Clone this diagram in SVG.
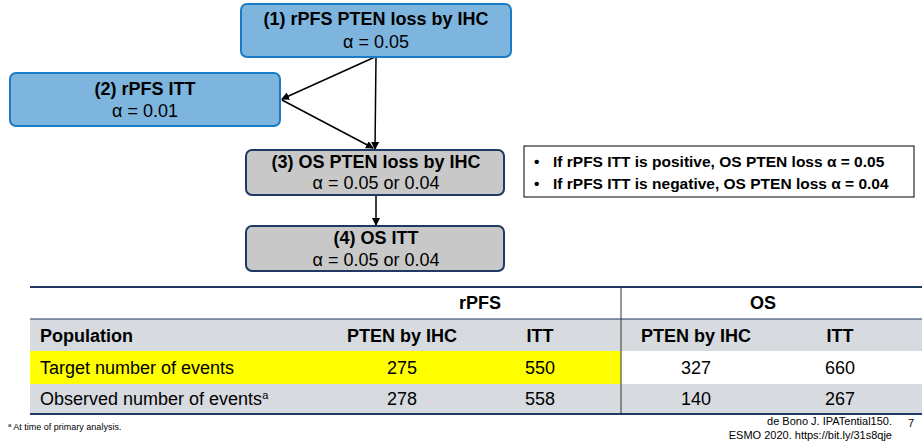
<svg xmlns="http://www.w3.org/2000/svg" width="924" height="441" viewBox="0 0 924 441">
<style>
text{font-family:"Liberation Sans",Arial,sans-serif;fill:#000}
.b{font-weight:bold;font-size:18px}
.r{font-size:18px}
.blue{fill:#7db5de;stroke:#1a7cc6;stroke-width:2}
.grey{fill:#c8c8c8;stroke:#1f3864;stroke-width:2}
.c{stroke:#000;stroke-width:1.5;fill:none}
.t{font-size:18px}
.tb{font-size:18px;font-weight:bold}
.n{font-size:15.5px;font-weight:bold}
</style>
<defs><marker id="a" markerWidth="8" markerHeight="8" refX="7" refY="4" orient="auto" markerUnits="userSpaceOnUse"><path d="M0,0L8,4L0,8z" fill="#000"/></marker></defs>
<rect width="924" height="441" fill="#fff"/>
<g id="connectors">
<line class="c" x1="375" y1="57" x2="282" y2="99" marker-end="url(#a)"/>
<line class="c" x1="376" y1="57" x2="375" y2="149" marker-end="url(#a)"/>
<line class="c" x1="282" y1="100" x2="373" y2="148" marker-end="url(#a)"/>
<line class="c" x1="376" y1="195" x2="376" y2="225" marker-end="url(#a)"/>
</g>
<g id="n1"><rect class="blue" x="241" y="4" width="270" height="53" rx="6"/>
<text class="b" x="376" y="25" text-anchor="middle">(1) rPFS PTEN loss by IHC</text>
<text class="r" x="376" y="48" text-anchor="middle">α = 0.05</text></g>
<g id="n2"><rect class="blue" x="10" y="73" width="270" height="53" rx="6"/>
<text class="b" x="145" y="95" text-anchor="middle">(2) rPFS ITT</text>
<text class="r" x="145" y="117" text-anchor="middle">α = 0.01</text></g>
<g id="n3"><rect class="grey" x="246" y="150" width="258" height="45" rx="6"/>
<text class="b" x="376" y="168" text-anchor="middle">(3) OS PTEN loss by IHC</text>
<text class="r" x="376" y="189" text-anchor="middle">α = 0.05 or 0.04</text></g>
<g id="n4"><rect class="grey" x="246" y="226" width="258" height="45" rx="6"/>
<text class="b" x="376" y="244" text-anchor="middle">(4) OS ITT</text>
<text class="r" x="376" y="266" text-anchor="middle">α = 0.05 or 0.04</text></g>
<g id="note"><rect x="524" y="146" width="390" height="51" fill="#fff" stroke="#000" stroke-width="1"/>
<text class="n" x="534" y="167">•</text>
<text class="n" x="553" y="167">If rPFS ITT is positive, OS PTEN loss α = 0.05</text>
<text class="n" x="534" y="189">•</text>
<text class="n" x="553" y="189">If rPFS ITT is negative, OS PTEN loss α = 0.04</text></g>
<g id="table">
<rect x="30" y="319" width="892" height="32" fill="#d7dbe0"/>
<rect x="30" y="351" width="591" height="33" fill="#ffff00"/>
<rect x="30" y="384" width="892" height="30" fill="#d7dbe0"/>
<line x1="30" y1="287" x2="922" y2="287" stroke="#1f3864" stroke-width="2"/>
<line x1="30" y1="319" x2="922" y2="319" stroke="#1f3864" stroke-width="1"/>
<line x1="30" y1="414" x2="922" y2="414" stroke="#1f3864" stroke-width="2"/>
<line x1="621" y1="287" x2="621" y2="414" stroke="#333" stroke-width="1"/>
<text class="tb" x="480" y="309" text-anchor="middle">rPFS</text>
<text class="tb" x="763" y="309" text-anchor="middle">OS</text>
<text class="tb" x="40" y="342">Population</text>
<text class="tb" x="402" y="342" text-anchor="middle">PTEN by IHC</text>
<text class="tb" x="540" y="342" text-anchor="middle">ITT</text>
<text class="tb" x="696" y="342" text-anchor="middle">PTEN by IHC</text>
<text class="tb" x="840" y="342" text-anchor="middle">ITT</text>
<text class="t" x="40" y="374">Target number of events</text>
<text class="t" x="402" y="374" text-anchor="middle">275</text>
<text class="t" x="540" y="374" text-anchor="middle">550</text>
<text class="t" x="696" y="374" text-anchor="middle">327</text>
<text class="t" x="840" y="374" text-anchor="middle">660</text>
<text class="t" x="40" y="405">Observed number of events<tspan font-size="11" dy="-6">a</tspan></text>
<text class="t" x="402" y="405" text-anchor="middle">278</text>
<text class="t" x="540" y="405" text-anchor="middle">558</text>
<text class="t" x="696" y="405" text-anchor="middle">140</text>
<text class="t" x="840" y="405" text-anchor="middle">267</text>
</g>
<text x="8" y="430" font-size="9"><tspan font-size="6" dy="-3">a</tspan><tspan dy="3"> At time of primary analysis.</tspan></text>
<text x="892" y="425" font-size="11" text-anchor="end">de Bono J. IPATential150.</text>
<text x="892" y="439" font-size="11" text-anchor="end">ESMO 2020. https://bit.ly/31s8qje</text>
<text x="908" y="427" font-size="11">7</text>
</svg>
